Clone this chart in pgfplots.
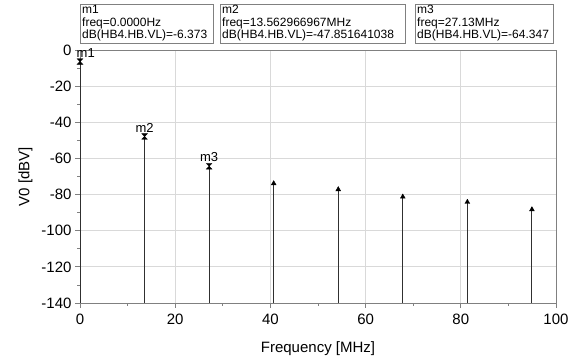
\documentclass[border=0pt]{standalone}
\usepackage{pgfplots}
\pgfplotsset{compat=1.18}
\usepackage{fontspec}
\setmainfont{Liberation Sans}
\definecolor{gridc}{HTML}{D9D9D9}
\definecolor{framec}{HTML}{808080}
\definecolor{stemc}{HTML}{303030}
\pgfdeclareplotmark{bowtie}{%
  \pgfpathmoveto{\pgfpoint{-\pgfplotmarksize}{\pgfplotmarksize}}%
  \pgfpathlineto{\pgfpoint{\pgfplotmarksize}{\pgfplotmarksize}}%
  \pgfpathlineto{\pgfpoint{0pt}{0pt}}%
  \pgfpathclose
  \pgfpathmoveto{\pgfpoint{-\pgfplotmarksize}{-\pgfplotmarksize}}%
  \pgfpathlineto{\pgfpoint{\pgfplotmarksize}{-\pgfplotmarksize}}%
  \pgfpathlineto{\pgfpoint{0pt}{0pt}}%
  \pgfpathclose
  \pgfusepathqfillstroke}
\pgfdeclareplotmark{uptri}{%
  \pgfpathmoveto{\pgfpoint{-0.8\pgfplotmarksize}{-1.4\pgfplotmarksize}}%
  \pgfpathlineto{\pgfpoint{0.8\pgfplotmarksize}{-1.4\pgfplotmarksize}}%
  \pgfpathlineto{\pgfpoint{0pt}{0pt}}%
  \pgfpathclose
  \pgfusepathqfillstroke}
\pgfplotstableread{
x y e
40.689 -72.3 67.7
54.252 -75.6 64.4
67.815 -79.7 60.3
81.378 -82.6 57.4
94.941 -86.7 53.3
}\harmonics
\pgfplotstableread{
x y e
0 -6.373 133.627
13.563 -47.852 92.148
27.13 -64.347 75.653
}\markers
\begin{document}
\begin{tikzpicture}
\path[use as bounding box] (0pt,0pt) rectangle (574pt,363pt);
\begin{axis}[
  at={(80pt,60pt)}, anchor=south west,
  scale only axis, width=476pt, height=253pt,
  xmin=0, xmax=100, ymin=-140, ymax=0,
  xtick={0,20,...,100}, ytick={-140,-120,...,0},
  minor x tick num=1, minor y tick num=1,
  tick align=outside, tick pos=left,
  major tick length=5pt, minor tick length=3pt,
  grid=major,
  major grid style={gridc, line width=0.8pt},
  axis line style={framec, line width=0.8pt},
  every tick/.style={framec, line width=0.8pt},
  tick label style={font=\fontsize{15}{17}\selectfont},
  xticklabel style={yshift=-2pt},
  /pgf/number format/assume math mode=true,
  xlabel={Frequency [MHz]}, ylabel={V0 [dBV]},
  label style={font=\fontsize{15}{17}\selectfont},
  xlabel style={at={(axis description cs:0.5,0)}, anchor=north, yshift=-35pt},
  ylabel style={at={(axis description cs:0,0.5)}, anchor=south, yshift=44pt},
  clip=false,
]
\addplot[only marks, mark=uptri, mark size=3pt,
  mark options={fill=black, draw=black, line width=0.4pt},
  error bars/.cd, y dir=minus, y explicit, error mark=none,
  error bar style={stemc, line width=1pt}]
  table[x=x, y=y, y error=e] {\harmonics};
\addplot[only marks, mark=bowtie, mark size=2.8pt,
  mark options={fill=black, draw=black, line width=0.4pt},
  error bars/.cd, y dir=minus, y explicit, error mark=none,
  error bar style={stemc, line width=1pt}]
  table[x=x, y=y, y error=e] {\markers};
\node[anchor=south, font=\fontsize{13}{14}\selectfont, inner sep=0pt, yshift=4pt] at (axis cs:1.2,-6.373) {m1};
\node[anchor=south, font=\fontsize{13}{14}\selectfont, inner sep=0pt, yshift=4pt] at (axis cs:13.563,-47.852) {m2};
\node[anchor=south, font=\fontsize{13}{14}\selectfont, inner sep=0pt, yshift=4pt] at (axis cs:27.13,-64.347) {m3};
\end{axis}
\draw[framec, line width=0.8pt, fill=white] (80pt,320pt) rectangle (213pt,359pt);
\draw[framec, line width=0.8pt, fill=white] (220pt,320pt) rectangle (405pt,359pt);
\draw[framec, line width=0.8pt, fill=white] (415pt,320pt) rectangle (553pt,359pt);
\node[anchor=north west, align=left, inner sep=0pt, font=\fontsize{12}{12.6}\selectfont] at (82pt,358pt)
  {m1\\freq=0.0000Hz\\dB(HB4.HB.VL)=-6.373};
\node[anchor=north west, align=left, inner sep=0pt, font=\fontsize{12}{12.6}\selectfont] at (222pt,358pt)
  {m2\\freq=13.562966967MHz\\dB(HB4.HB.VL)=-47.851641038};
\node[anchor=north west, align=left, inner sep=0pt, font=\fontsize{12}{12.6}\selectfont] at (417pt,358pt)
  {m3\\freq=27.13MHz\\dB(HB4.HB.VL)=-64.347};
\end{tikzpicture}
\end{document}
